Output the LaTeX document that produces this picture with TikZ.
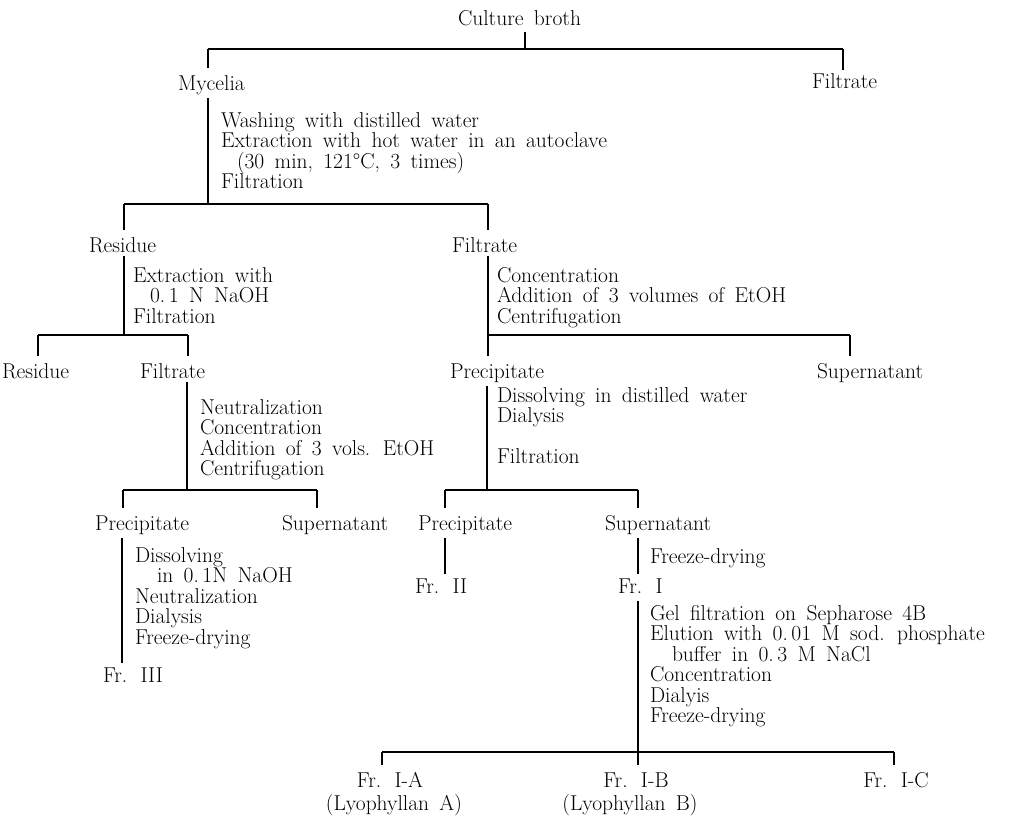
\documentclass[tikz,border=0pt]{standalone}
\newcommand\dfont{\fontsize{21.5}{20.5}\selectfont\spaceskip=0.48em plus 0.05em minus 0.05em\relax}
\newcommand\stk[1]{\vtop{\baselineskip=20.5pt\lineskiplimit=-50pt\lineskip=0pt #1}}
\newcommand\frsp{\hspace{0.62em}}
\tikzset{
  lbl/.style={anchor=base west, inner sep=0pt, outer sep=0pt, font=\dfont},
  clbl/.style={lbl, anchor=base},
  conn/.style={line width=1.1pt},
  tick/.style={conn, shorten >=7pt},
  drop/.style={conn, shorten <=4pt},
  dropb/.style={conn, shorten <=4pt, shorten >=4pt},
}
\begin{document}
\begin{tikzpicture}[x=1pt,y=-1pt]
\fill[white] (0,0) rectangle (1020,817);
\useasboundingbox (0,0) rectangle (1020,817);

% ---- level 0
\node[lbl] (broth) at (458,25) {Culture broth};
\coordinate (j0) at (525,49);
\coordinate (h1a) at (208,49);
\coordinate (h1b) at (843,49);
\draw[conn, shorten <=7pt] (broth.south -| j0) -- (j0);
\draw[conn] (h1a) -- (h1b);

% ---- level 1
\node[lbl] (mycelia) at (178,90) {Mycelia};
\node[lbl] (filt1) at (812,88) {Filtrate};
\draw[tick] (h1a) -- (mycelia.north -| h1a);
\draw[conn, shorten >=3pt] (h1b) -- (filt1.north -| h1b);

\coordinate (h2m) at (208,204);
\coordinate (h2a) at (124,204);
\coordinate (h2b) at (488,204);
\draw[drop] (mycelia.south -| h2m) -- (h2m);
\node[lbl] (b1) at (221,127) {\stk{\hbox{Washing with distilled water}\hbox{Extraction with hot water in an autoclave}\hbox{\hspace{16pt}(30 min, 121°C, 3 times)}\hbox{Filtration}}};
\draw[conn] (h2a) -- (h2b);

% ---- level 2
\node[lbl] (res2) at (89,252) {Residue};
\node[lbl] (fil2) at (452,252) {Filtrate};
\draw[tick] (h2a) -- (res2.north -| h2a);
\draw[tick] (h2b) -- (fil2.north -| h2b);

% residue branch
\coordinate (h3m) at (124,335);
\coordinate (h3a) at (38,335);
\coordinate (h3b) at (188,335);
\draw[drop] (res2.south -| h3m) -- (h3m);
\node[lbl] (b2) at (133,282) {\stk{\hbox{Extraction with}\hbox{\hspace{17pt}0.\,1 N NaOH}\hbox{Filtration}}};
\draw[conn] (h3a) -- (h3b);

\node[lbl] (res3) at (2,378) {Residue};
\node[lbl] (fil3) at (140,378) {Filtrate};
\draw[tick] (h3a) -- (res3.north -| h3a);
\draw[tick] (h3b) -- (fil3.north -| h3b);

\coordinate (h4lm) at (187,490);
\coordinate (h4la) at (123,490);
\coordinate (h4lb) at (317,490);
\draw[drop] (fil3.south -| h4lm) -- (h4lm);
\node[lbl] (b3) at (200,414) {\stk{\hbox{Neutralization}\hbox{Concentration}\hbox{Addition of 3 vols. EtOH}\hbox{Centrifugation}}};
\draw[conn] (h4la) -- (h4lb);

\node[lbl] (pre4l) at (95,530) {Precipitate};
\node[lbl] (sup4l) at (282,530) {Supernatant};
\draw[tick] (h4la) -- (pre4l.north -| h4la);
\draw[tick] (h4lb) -- (sup4l.north -| h4lb);

\node[lbl] (fr3) at (103,682) {Fr.\frsp III};
\coordinate (v4l) at (122,600);
\draw[dropb] (pre4l.south -| v4l) -- (fr3.north -| v4l);
\node[lbl] (b4) at (135,562) {\stk{\hbox{Dissolving}\hbox{\hspace{22pt}in 0.\,1N NaOH}\hbox{Neutralization}\hbox{Dialysis}\hbox{Freeze-drying}}};

% filtrate branch
\coordinate (h3ra) at (488,335);
\coordinate (h3rb) at (850,335);
\draw[drop] (fil2.south -| h3ra) -- (h3ra);
\node[lbl] (b5) at (497,282) {\stk{\hbox{Concentration}\hbox{Addition of 3 volumes of EtOH}\hbox{Centrifugation}}};
\draw[conn] (h3ra) -- (h3rb);

\node[lbl] (pre3) at (450,378) {Precipitate};
\node[lbl] (sup3) at (817,378) {Supernatant};
\draw[tick] (h3ra) -- (pre3.north -| h3ra);
\draw[tick] (h3rb) -- (sup3.north -| h3rb);

\coordinate (h4mm) at (487,490);
\coordinate (h4ma) at (445,490);
\coordinate (h4mb) at (638,490);
\draw[drop] (pre3.south -| h4mm) -- (h4mm);
\node[lbl] (b6) at (497,402) {\stk{\hbox{Dissolving in distilled water}\hbox{Dialysis}\hbox{}\hbox{Filtration}}};
\draw[conn] (h4ma) -- (h4mb);

\node[lbl] (pre4m) at (418,530) {Precipitate};
\node[lbl] (sup4m) at (605,530) {Supernatant};
\draw[tick] (h4ma) -- (pre4m.north -| h4ma);
\draw[tick] (h4mb) -- (sup4m.north -| h4mb);

\node[lbl] (fr2) at (415,593) {Fr.\frsp II};
\draw[dropb] (pre4m.south -| h4ma) -- (fr2.north -| h4ma);

\node[lbl] (fr1) at (618,593) {Fr.\frsp I};
\node[lbl] (fd1) at (650,563) {Freeze-drying};
\draw[dropb] (sup4m.south -| h4mb) -- (fr1.north -| h4mb);

\coordinate (h5m) at (638,752);
\coordinate (h5a) at (382,752);
\coordinate (h5b) at (894,752);
\draw[conn, shorten <=8pt] (fr1.south -| h5m) -- (h5m);
\node[lbl] (b7) at (650,620) {\stk{\hbox{Gel filtration on Sepharose 4B}\hbox{Elution with 0.\,01 M sod. phosphate}\hbox{\hspace{22pt}buffer in 0.\,3 M NaCl}\hbox{Concentration}\hbox{Dialyis}\hbox{Freeze-drying}}};
\draw[conn] (h5a) -- (h5b);

\node[clbl] (fria) at (390,787) {Fr.\frsp I-A};
\node[clbl] (lya) at (394,810) {(Lyophyllan A)};
\node[clbl] (frib) at (636,787) {Fr.\frsp I-B};
\node[clbl] (lyb) at (630,810) {(Lyophyllan B)};
\node[clbl] (fric) at (896,787) {Fr.\frsp I-C};
\draw[tick] (h5a) -- (fria.north -| h5a);
\draw[tick] (h5m) -- (frib.north -| h5m);
\draw[tick] (h5b) -- (fric.north -| h5b);
\end{tikzpicture}
\end{document}
